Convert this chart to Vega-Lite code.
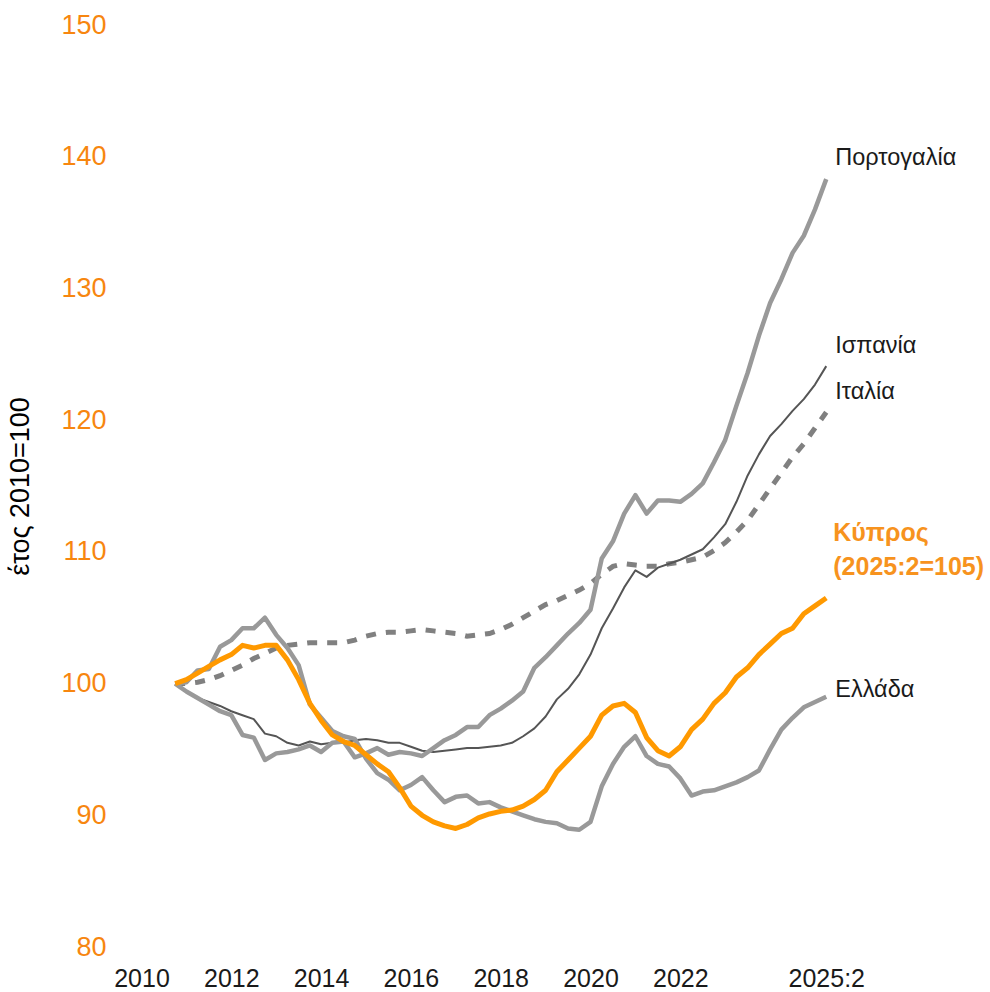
{
  "$schema": "https://vega.github.io/schema/vega-lite/v6.json",
  "width": 850,
  "height": 922,
  "autosize": {"type": "none"},
  "padding": {"left": 115, "top": 25, "right": 25, "bottom": 45},
  "background": "white",
  "config": {"view": {"stroke": null}, "font": "Liberation Sans"},
  "data": {"values": [
    {"t": 2010.75, "Ιταλία": 100.0, "Ισπανία": 100.0, "Ελλάδα": 100.0, "Πορτογαλία": 100.0, "Κύπρος": 100.0},
    {"t": 2011.00, "Ιταλία": 100.0, "Ισπανία": 99.4, "Ελλάδα": 100.1, "Πορτογαλία": 99.4, "Κύπρος": 100.3},
    {"t": 2011.25, "Ιταλία": 100.1, "Ισπανία": 98.9, "Ελλάδα": 101.0, "Πορτογαλία": 98.9, "Κύπρος": 100.8},
    {"t": 2011.50, "Ιταλία": 100.3, "Ισπανία": 98.6, "Ελλάδα": 101.1, "Πορτογαλία": 98.4, "Κύπρος": 101.3},
    {"t": 2011.75, "Ιταλία": 100.6, "Ισπανία": 98.3, "Ελλάδα": 102.8, "Πορτογαλία": 97.9, "Κύπρος": 101.8},
    {"t": 2012.00, "Ιταλία": 101.0, "Ισπανία": 97.9, "Ελλάδα": 103.3, "Πορτογαλία": 97.6, "Κύπρος": 102.2},
    {"t": 2012.25, "Ιταλία": 101.4, "Ισπανία": 97.6, "Ελλάδα": 104.2, "Πορτογαλία": 96.1, "Κύπρος": 102.9},
    {"t": 2012.50, "Ιταλία": 101.9, "Ισπανία": 97.3, "Ελλάδα": 104.2, "Πορτογαλία": 95.9, "Κύπρος": 102.7},
    {"t": 2012.75, "Ιταλία": 102.3, "Ισπανία": 96.2, "Ελλάδα": 105.0, "Πορτογαλία": 94.2, "Κύπρος": 102.9},
    {"t": 2013.00, "Ιταλία": 102.7, "Ισπανία": 96.0, "Ελλάδα": 103.7, "Πορτογαλία": 94.7, "Κύπρος": 102.9},
    {"t": 2013.25, "Ιταλία": 102.9, "Ισπανία": 95.5, "Ελλάδα": 102.7, "Πορτογαλία": 94.8, "Κύπρος": 101.8},
    {"t": 2013.50, "Ιταλία": 103.0, "Ισπανία": 95.3, "Ελλάδα": 101.4, "Πορτογαλία": 95.0, "Κύπρος": 100.3},
    {"t": 2013.75, "Ιταλία": 103.1, "Ισπανία": 95.6, "Ελλάδα": 98.4, "Πορτογαλία": 95.3, "Κύπρος": 98.5},
    {"t": 2014.00, "Ιταλία": 103.1, "Ισπανία": 95.4, "Ελλάδα": 97.4, "Πορτογαλία": 94.8, "Κύπρος": 97.2},
    {"t": 2014.25, "Ιταλία": 103.1, "Ισπανία": 95.5, "Ελλάδα": 96.4, "Πορτογαλία": 95.5, "Κύπρος": 96.1},
    {"t": 2014.50, "Ιταλία": 103.1, "Ισπανία": 95.5, "Ελλάδα": 96.0, "Πορτογαλία": 95.6, "Κύπρος": 95.6},
    {"t": 2014.75, "Ιταλία": 103.3, "Ισπανία": 95.7, "Ελλάδα": 95.8, "Πορτογαλία": 94.4, "Κύπρος": 95.3},
    {"t": 2015.00, "Ιταλία": 103.6, "Ισπανία": 95.8, "Ελλάδα": 94.3, "Πορτογαλία": 94.7, "Κύπρος": 94.6},
    {"t": 2015.25, "Ιταλία": 103.8, "Ισπανία": 95.7, "Ελλάδα": 93.2, "Πορτογαλία": 95.1, "Κύπρος": 93.9},
    {"t": 2015.50, "Ιταλία": 103.9, "Ισπανία": 95.5, "Ελλάδα": 92.7, "Πορτογαλία": 94.6, "Κύπρος": 93.3},
    {"t": 2015.75, "Ιταλία": 103.9, "Ισπανία": 95.5, "Ελλάδα": 91.9, "Πορτογαλία": 94.8, "Κύπρος": 92.1},
    {"t": 2016.00, "Ιταλία": 104.0, "Ισπανία": 95.2, "Ελλάδα": 92.3, "Πορτογαλία": 94.7, "Κύπρος": 90.7},
    {"t": 2016.25, "Ιταλία": 104.1, "Ισπανία": 94.9, "Ελλάδα": 92.9, "Πορτογαλία": 94.5, "Κύπρος": 90.0},
    {"t": 2016.50, "Ιταλία": 104.0, "Ισπανία": 94.8, "Ελλάδα": 91.9, "Πορτογαλία": 95.1, "Κύπρος": 89.5},
    {"t": 2016.75, "Ιταλία": 103.9, "Ισπανία": 94.9, "Ελλάδα": 91.0, "Πορτογαλία": 95.7, "Κύπρος": 89.2},
    {"t": 2017.00, "Ιταλία": 103.8, "Ισπανία": 95.0, "Ελλάδα": 91.4, "Πορτογαλία": 96.1, "Κύπρος": 89.0},
    {"t": 2017.25, "Ιταλία": 103.6, "Ισπανία": 95.1, "Ελλάδα": 91.5, "Πορτογαλία": 96.7, "Κύπρος": 89.3},
    {"t": 2017.50, "Ιταλία": 103.7, "Ισπανία": 95.1, "Ελλάδα": 90.9, "Πορτογαλία": 96.7, "Κύπρος": 89.8},
    {"t": 2017.75, "Ιταλία": 103.8, "Ισπανία": 95.2, "Ελλάδα": 91.0, "Πορτογαλία": 97.6, "Κύπρος": 90.1},
    {"t": 2018.00, "Ιταλία": 104.1, "Ισπανία": 95.3, "Ελλάδα": 90.6, "Πορτογαλία": 98.1, "Κύπρος": 90.3},
    {"t": 2018.25, "Ιταλία": 104.5, "Ισπανία": 95.5, "Ελλάδα": 90.3, "Πορτογαλία": 98.7, "Κύπρος": 90.4},
    {"t": 2018.50, "Ιταλία": 105.0, "Ισπανία": 96.0, "Ελλάδα": 90.0, "Πορτογαλία": 99.4, "Κύπρος": 90.7},
    {"t": 2018.75, "Ιταλία": 105.5, "Ισπανία": 96.6, "Ελλάδα": 89.7, "Πορτογαλία": 101.2, "Κύπρος": 91.2},
    {"t": 2019.00, "Ιταλία": 106.0, "Ισπανία": 97.5, "Ελλάδα": 89.5, "Πορτογαλία": 102.0, "Κύπρος": 91.9},
    {"t": 2019.25, "Ιταλία": 106.3, "Ισπανία": 98.8, "Ελλάδα": 89.4, "Πορτογαλία": 102.9, "Κύπρος": 93.3},
    {"t": 2019.50, "Ιταλία": 106.7, "Ισπανία": 99.6, "Ελλάδα": 89.0, "Πορτογαλία": 103.8, "Κύπρος": 94.2},
    {"t": 2019.75, "Ιταλία": 107.1, "Ισπανία": 100.7, "Ελλάδα": 88.9, "Πορτογαλία": 104.6, "Κύπρος": 95.1},
    {"t": 2020.00, "Ιταλία": 107.6, "Ισπανία": 102.2, "Ελλάδα": 89.5, "Πορτογαλία": 105.6, "Κύπρος": 96.0},
    {"t": 2020.25, "Ιταλία": 108.3, "Ισπανία": 104.2, "Ελλάδα": 92.2, "Πορτογαλία": 109.5, "Κύπρος": 97.6},
    {"t": 2020.50, "Ιταλία": 108.9, "Ισπανία": 105.7, "Ελλάδα": 93.9, "Πορτογαλία": 110.8, "Κύπρος": 98.3},
    {"t": 2020.75, "Ιταλία": 109.1, "Ισπανία": 107.3, "Ελλάδα": 95.2, "Πορτογαλία": 112.9, "Κύπρος": 98.5},
    {"t": 2021.00, "Ιταλία": 109.0, "Ισπανία": 108.6, "Ελλάδα": 96.0, "Πορτογαλία": 114.3, "Κύπρος": 97.8},
    {"t": 2021.25, "Ιταλία": 108.9, "Ισπανία": 108.1, "Ελλάδα": 94.5, "Πορτογαλία": 112.9, "Κύπρος": 95.9},
    {"t": 2021.50, "Ιταλία": 108.9, "Ισπανία": 108.8, "Ελλάδα": 93.9, "Πορτογαλία": 113.9, "Κύπρος": 94.9},
    {"t": 2021.75, "Ιταλία": 109.1, "Ισπανία": 109.1, "Ελλάδα": 93.7, "Πορτογαλία": 113.9, "Κύπρος": 94.5},
    {"t": 2022.00, "Ιταλία": 109.2, "Ισπανία": 109.4, "Ελλάδα": 92.8, "Πορτογαλία": 113.8, "Κύπρος": 95.2},
    {"t": 2022.25, "Ιταλία": 109.4, "Ισπανία": 109.8, "Ελλάδα": 91.5, "Πορτογαλία": 114.4, "Κύπρος": 96.5},
    {"t": 2022.50, "Ιταλία": 109.6, "Ισπανία": 110.2, "Ελλάδα": 91.8, "Πορτογαλία": 115.2, "Κύπρος": 97.3},
    {"t": 2022.75, "Ιταλία": 110.1, "Ισπανία": 111.1, "Ελλάδα": 91.9, "Πορτογαλία": 116.8, "Κύπρος": 98.5},
    {"t": 2023.00, "Ιταλία": 110.7, "Ισπανία": 112.1, "Ελλάδα": 92.2, "Πορτογαλία": 118.5, "Κύπρος": 99.3},
    {"t": 2023.25, "Ιταλία": 111.5, "Ισπανία": 113.8, "Ελλάδα": 92.5, "Πορτογαλία": 121.1, "Κύπρος": 100.5},
    {"t": 2023.50, "Ιταλία": 112.4, "Ισπανία": 115.8, "Ελλάδα": 92.9, "Πορτογαλία": 123.6, "Κύπρος": 101.2},
    {"t": 2023.75, "Ιταλία": 113.6, "Ισπανία": 117.4, "Ελλάδα": 93.4, "Πορτογαλία": 126.4, "Κύπρος": 102.2},
    {"t": 2024.00, "Ιταλία": 114.8, "Ισπανία": 118.8, "Ελλάδα": 95.0, "Πορτογαλία": 128.9, "Κύπρος": 103.0},
    {"t": 2024.25, "Ιταλία": 116.0, "Ισπανία": 119.7, "Ελλάδα": 96.5, "Πορτογαλία": 130.7, "Κύπρος": 103.8},
    {"t": 2024.50, "Ιταλία": 117.2, "Ισπανία": 120.7, "Ελλάδα": 97.4, "Πορτογαλία": 132.7, "Κύπρος": 104.2},
    {"t": 2024.75, "Ιταλία": 118.2, "Ισπανία": 121.6, "Ελλάδα": 98.2, "Πορτογαλία": 134.0, "Κύπρος": 105.3},
    {"t": 2025.00, "Ιταλία": 119.4, "Ισπανία": 122.7, "Ελλάδα": 98.6, "Πορτογαλία": 136.0, "Κύπρος": 105.9},
    {"t": 2025.25, "Ιταλία": 120.6, "Ισπανία": 124.1, "Ελλάδα": 99.0, "Πορτογαλία": 138.3, "Κύπρος": 106.5}
  ]},
  "transform": [{"fold": ["Ιταλία", "Ισπανία", "Ελλάδα", "Πορτογαλία", "Κύπρος"], "as": ["country", "value"]}],
  "encoding": {
    "x": {"field": "t", "type": "quantitative",
      "scale": {"domain": [2009.41, 2028.34], "nice": false, "zero": false},
      "axis": {"values": [2010, 2012, 2014, 2016, 2018, 2020, 2022, 2025.25],
        "labelExpr": "datum.value > 2025 ? '2025:2' : format(datum.value, 'd')",
        "title": null, "grid": false, "ticks": false, "domain": false,
        "labelFontSize": 25, "labelColor": "#1a1a1a", "labelPadding": 39, "labelBaseline": "alphabetic",
        "labelFlush": false, "labelOverlap": false, "labelBound": false}},
    "y": {"field": "value", "type": "quantitative",
      "scale": {"domain": [80, 150], "nice": false, "zero": false},
      "axis": {"values": [80, 90, 100, 110, 120, 130, 140, 150],
        "title": "έτος 2010=100", "titleFontSize": 27, "titleFontWeight": "normal", "titleColor": "#000000", "titlePadding": 26,
        "grid": false, "ticks": false, "domain": false,
        "labelFontSize": 27, "labelColor": "#f7860f", "labelPadding": 9,
        "labelFlush": false, "labelOverlap": false, "labelBound": false}}
  },
  "layer": [
    {"transform": [{"filter": "datum.country == 'Ιταλία'"}],
      "mark": {"type": "line", "color": "#808080", "strokeWidth": 5, "strokeDash": [10, 10], "strokeCap": "butt"}},
    {"transform": [{"filter": "datum.country == 'Ισπανία'"}],
      "mark": {"type": "line", "color": "#555555", "strokeWidth": 2, "strokeJoin": "round"}},
    {"transform": [{"filter": "datum.country == 'Πορτογαλία'"}],
      "mark": {"type": "line", "color": "#999999", "strokeWidth": 4.5, "strokeJoin": "round"}},
    {"transform": [{"filter": "datum.country == 'Ελλάδα'"}],
      "mark": {"type": "line", "color": "#999999", "strokeWidth": 4.5, "strokeJoin": "round"}},
    {"transform": [{"filter": "datum.country == 'Κύπρος'"}],
      "mark": {"type": "line", "color": "#ff9900", "strokeWidth": 5, "strokeJoin": "round"}},
    {"transform": [{"filter": "datum.t == 2025.25 && datum.country == 'Πορτογαλία'"}],
      "mark": {"type": "text", "align": "left", "baseline": "middle", "dx": 9, "dy": -21, "fontSize": 23.5, "color": "#1a1a1a"},
      "encoding": {"text": {"field": "country"}}},
    {"transform": [{"filter": "datum.t == 2025.25 && (datum.country == 'Ισπανία' || datum.country == 'Ιταλία')"}],
      "mark": {"type": "text", "align": "left", "baseline": "middle", "dx": 9, "dy": -20, "fontSize": 23.5, "color": "#1a1a1a"},
      "encoding": {"text": {"field": "country"}}},
    {"transform": [{"filter": "datum.t == 2025.25 && datum.country == 'Ελλάδα'"}],
      "mark": {"type": "text", "align": "left", "baseline": "middle", "dx": 9, "dy": -7, "fontSize": 23.5, "color": "#1a1a1a"},
      "encoding": {"text": {"field": "country"}}},
    {"transform": [{"filter": "datum.t == 2025.25 && datum.country == 'Κύπρος'"}],
      "mark": {"type": "text", "align": "left", "baseline": "middle", "dx": 7, "dy": -65, "fontSize": 25, "fontWeight": "bold", "lineHeight": 34, "color": "#f7931e",
        "text": ["Κύπρος", "(2025:2=105)"]}}
  ]
}
